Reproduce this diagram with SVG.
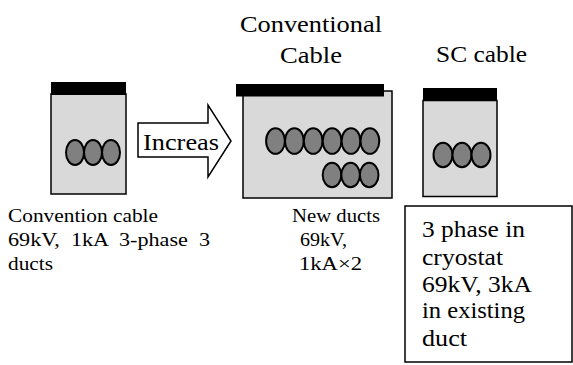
<svg xmlns="http://www.w3.org/2000/svg" width="573" height="365" viewBox="0 0 573 365">
<style>
.box{fill:#d9d9d9;stroke:#000;stroke-width:1.5}
.bar{fill:#000}
.duct{fill:#808080;stroke:#000;stroke-width:2}
text{fill:#000;font-family:"Liberation Serif","Times New Roman",serif}
.title{font-size:24px}
.lbl{font-size:19px}
.note{font-size:23px}
.mid{text-anchor:middle}
</style>
<rect width="573" height="365" fill="#fff"/>
<g id="conventional-existing">
<rect class="box" x="51" y="94" width="75" height="100"/>
<rect class="bar" x="51" y="82" width="75" height="13"/>
<ellipse class="duct" cx="75" cy="152.5" rx="9" ry="12.5"/>
<ellipse class="duct" cx="93" cy="152.5" rx="9" ry="12.5"/>
<ellipse class="duct" cx="111" cy="152.5" rx="9" ry="12.5"/>
<text class="lbl" x="8" y="222" textLength="150" lengthAdjust="spacingAndGlyphs">Convention cable</text>
<text class="lbl" x="8" y="246" xml:space="preserve" textLength="202" lengthAdjust="spacingAndGlyphs">69kV,  1kA  3-phase  3</text>
<text class="lbl" x="8" y="270" textLength="45" lengthAdjust="spacingAndGlyphs">ducts</text>
</g>
<g id="connectors">
<polygon points="138,123 208,123 208,105 231,141 208,177 208,157 138,157" fill="#fff" stroke="#000" stroke-width="1.5"/>
<text class="title" x="143" y="150" textLength="76" lengthAdjust="spacingAndGlyphs">Increas</text>
</g>
<g id="conventional-new">
<text class="title" x="240" y="32" textLength="142" lengthAdjust="spacingAndGlyphs">Conventional</text>
<text class="title" x="280" y="63" textLength="62" lengthAdjust="spacingAndGlyphs">Cable</text>
<rect class="box" x="243" y="91" width="149" height="107"/>
<rect class="bar" x="236" y="84" width="148" height="12.5"/>
<ellipse class="duct" cx="275.5" cy="141" rx="9.4" ry="12.8"/>
<ellipse class="duct" cx="294.4" cy="141" rx="9.4" ry="12.8"/>
<ellipse class="duct" cx="313.2" cy="141" rx="9.4" ry="12.8"/>
<ellipse class="duct" cx="332.1" cy="141" rx="9.4" ry="12.8"/>
<ellipse class="duct" cx="351" cy="141" rx="9.4" ry="12.8"/>
<ellipse class="duct" cx="369.9" cy="141" rx="9.4" ry="12.8"/>
<ellipse class="duct" cx="332" cy="175" rx="9.3" ry="12.3"/>
<ellipse class="duct" cx="350.6" cy="175" rx="9.3" ry="12.3"/>
<ellipse class="duct" cx="369.2" cy="175" rx="9.3" ry="12.3"/>
<text class="lbl" x="292" y="222" textLength="88" lengthAdjust="spacingAndGlyphs">New ducts</text>
<text class="lbl" x="300" y="246" textLength="47" lengthAdjust="spacingAndGlyphs">69kV,</text>
<text class="lbl" x="299" y="270" textLength="63" lengthAdjust="spacingAndGlyphs">1kA×2</text>
</g>
<g id="sc-cable">
<text class="title" x="436" y="62" textLength="91" lengthAdjust="spacingAndGlyphs">SC cable</text>
<rect class="box" x="423" y="100.5" width="74" height="96"/>
<rect class="bar" x="423" y="88" width="74" height="13"/>
<ellipse class="duct" cx="443" cy="155" rx="9.5" ry="12.3"/>
<ellipse class="duct" cx="462" cy="155" rx="9.5" ry="12.3"/>
<ellipse class="duct" cx="481" cy="155" rx="9.5" ry="12.3"/>
</g>
<g id="sc-note">
<rect x="405" y="206" width="167" height="156" fill="#fff" stroke="#000" stroke-width="1.5"/>
<text class="note" x="422" y="237" textLength="103" lengthAdjust="spacingAndGlyphs">3 phase in</text>
<text class="note" x="422" y="265" textLength="81" lengthAdjust="spacingAndGlyphs">cryostat</text>
<text class="note" x="422" y="292" textLength="110" lengthAdjust="spacingAndGlyphs">69kV, 3kA</text>
<text class="note" x="422" y="318" textLength="103" lengthAdjust="spacingAndGlyphs">in existing</text>
<text class="note" x="422" y="346" textLength="45" lengthAdjust="spacingAndGlyphs">duct</text>
</g>
</svg>
